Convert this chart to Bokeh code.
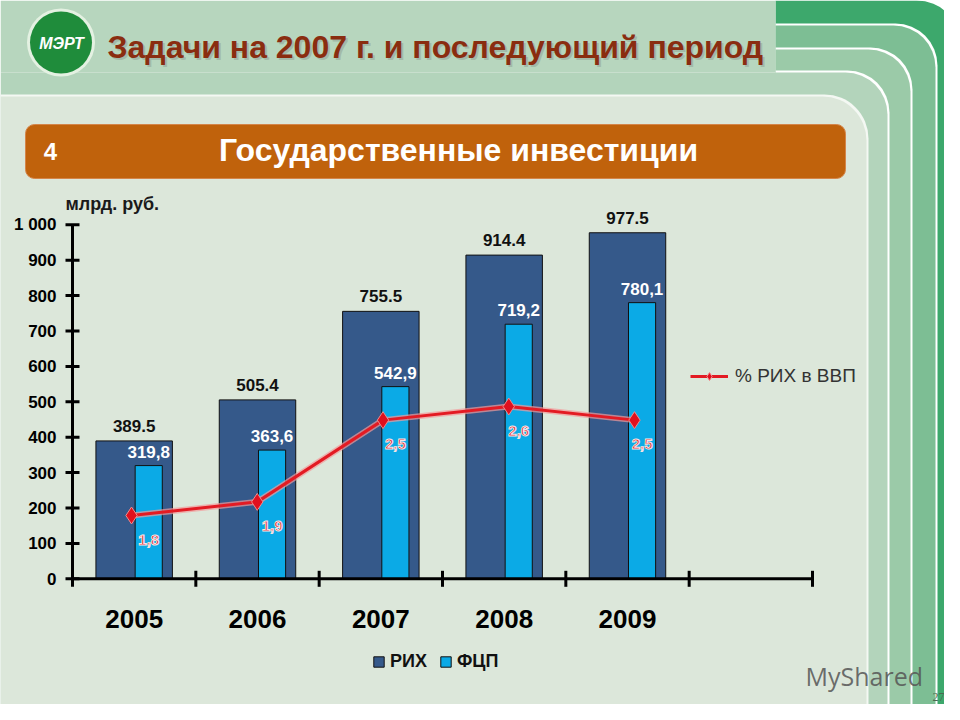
import numpy as np
from bokeh.plotting import figure
from bokeh.models import Range1d, ColumnDataSource, Legend, LegendItem
from bokeh.core.properties import value
from bokeh.embed import file_html
from bokeh.resources import INLINE

# ---------------- data ----------------
years = ["2005", "2006", "2007", "2008", "2009"]
rih = [389.5, 505.4, 755.5, 914.4, 977.5]          # РИХ, млрд. руб.
fcp = [319.8, 363.6, 542.9, 719.2, 780.1]          # ФЦП, млрд. руб.
share = [1.8, 1.9, 2.5, 2.6, 2.5]                  # % РИХ в ВВП
y_ticks = [0, 100, 200, 300, 400, 500, 600, 700, 800, 900, 1000]
y_tick_labels = ["0", "100", "200", "300", "400", "500", "600", "700", "800", "900", "1 000"]
n_slots = 6  # category slots on the x axis (5 years + one empty)

title_text = "Задачи на 2007 г. и последующий период"
band_text = "Государственные инвестиции"
band_num = "4"
unit_text = "млрд. руб."

# ---------------- layout (reference pixel frame) ----------------
W, H = 944, 704
OX, OY = 0, 0
AX_L, AX_R = 72.0, 812.0            # x-axis extent
AX_B, AX_T = 578.3, 224.3           # y of 0 and 1000
V_MAX = 1000.0
PCT_ZERO_Y, PCT_PX = 760.25, 136.25  # hidden secondary axis
LX0, LXS = 131.0, 125.75             # hidden secondary x axis

slot_px = (AX_R - AX_L) / n_slots
val_px = (AX_B - AX_T) / V_MAX
x_lo, x_hi = OX, OX + W
y_lo, y_hi = OY + H, OY

extra_x = {
    "cat": Range1d((x_lo - AX_L) / slot_px, (x_hi - AX_L) / slot_px),
    "lx": Range1d((x_lo - LX0) / LXS, (x_hi - LX0) / LXS),
}
extra_y = {
    "val": Range1d((AX_B - y_lo) / val_px, (AX_B - y_hi) / val_px),
    "pct": Range1d((PCT_ZERO_Y - y_lo) / PCT_PX, (PCT_ZERO_Y - y_hi) / PCT_PX),
}

p = figure(width=W, height=H, x_range=Range1d(x_lo, x_hi), y_range=Range1d(y_lo, y_hi),
           output_backend="svg", toolbar_location=None,
           x_axis_location=None, y_axis_location=None, min_border=0,
           outline_line_color=None, background_fill_color="white",
           border_fill_color="white")
p.grid.visible = False
p.extra_x_ranges = extra_x
p.extra_y_ranges = extra_y

FONT_NAME = "Liberation Sans"
FONT = value(FONT_NAME)

# ---------------- slide decoration ----------------
stripes = [
    # left, right, top, bottom, color, radius
    (775, 960, 0, 730, "#3DA86C", 44),
    (775, 937, 23, 730, "#FFFFFF", 42),
    (775, 935, 25, 730, "#7DBE94", 42),
    (775, 912, 47, 730, "#FFFFFF", 42),
    (775, 910, 49, 730, "#9BCAA8", 42),
    (775, 889, 70, 730, "#FFFFFF", 42),
    (0, 887, 72, 730, "#B3D4BB", 42),
    (0, 868, 94, 730, "#F4F8F3", 44),
    (0, 866, 96, 730, "#DCE7DA", 44),
]
for l, r, t, b, c, rad in stripes:
    p.quad(left=[l], right=[r], top=[t], bottom=[b], fill_color=c, line_color=None,
           border_radius=(0, rad, 0, 0))
p.quad(left=[0], right=[775], top=[0], bottom=[72], fill_color="#B7D6BE", line_color=None)

# logo
p.circle(x=[60.5], y=[42], radius=34, fill_color="#E4F1E2", line_color=None)
p.circle(x=[60.5], y=[42], radius=31, fill_color="#1F8C3B", line_color=None)
p.text(x=[61], y=[43], text=["МЭРТ"], text_font=FONT, text_font_style="bold italic",
       text_font_size="16px", text_color="white", text_align="center", text_baseline="middle")

# title
p.text(x=[109], y=[48], text=[title_text], text_font=FONT, text_font_style="bold",
       text_font_size="32px", text_color="#9DB3A3", text_alpha=0.8,
       text_align="left", text_baseline="middle")
p.text(x=[107], y=[46], text=[title_text], text_font=FONT, text_font_style="bold",
       text_font_size="32px", text_color="#8A2D10", text_align="left", text_baseline="middle")

# orange band
p.quad(left=[25], right=[845], top=[124], bottom=[178], fill_color="#C0620C",
       line_color="#D4854A", line_width=1, border_radius=9)
p.text(x=[50], y=[151], text=[band_num], text_font=FONT, text_font_style="bold",
       text_font_size="24px", text_color="white", text_align="center", text_baseline="middle")
p.text(x=[458], y=[149], text=[band_text], text_font=FONT, text_font_style="bold",
       text_font_size="32px", text_color="white", text_align="center", text_baseline="middle")

# unit label
p.text(x=[65], y=[203], text=[unit_text], text_font=FONT, text_font_style="bold",
       text_font_size="18px", text_color="#1A1A1A", text_align="left", text_baseline="middle")

# watermark & page number
p.text(x=[805], y=[675], text=["MyShared"], text_font=value("Open Sans"),
       text_font_size="25px", text_color="#555555", text_alpha=0.85,
       text_align="left", text_baseline="middle")
p.text(x=[938], y=[696], text=["27"], text_font=value("Liberation Serif"),
       text_font_size="12px", text_color="#4A6A50", text_align="center", text_baseline="middle")

# ---------------- chart ----------------
idx = np.arange(len(years))
src = ColumnDataSource(dict(
    idx=idx,
    xc=idx + 0.5,
    xf=idx + 0.5 + 0.118,
    rih=rih, fcp=fcp, share=share,
    rih_lbl=[f"{v:.1f}" for v in rih],
    fcp_lbl=[f"{v:.1f}".replace(".", ",") for v in fcp],
    share_lbl=[f"{v:.1f}".replace(".", ",") for v in share],
))

r_rih = p.vbar(x="xc", top="rih", bottom=0, width=0.62, source=src,
               x_range_name="cat", y_range_name="val",
               fill_color="#35598A", line_color="#111111", line_width=1)
r_fcp = p.vbar(x="xf", top="fcp", bottom=0, width=0.22, source=src,
               x_range_name="cat", y_range_name="val",
               fill_color="#0BAAE6", line_color="#111111", line_width=1)

# bar value labels
p.text(x="xc", y="rih", text="rih_lbl", source=src, x_range_name="cat", y_range_name="val",
       y_offset=-9, text_font=FONT, text_font_style="bold", text_font_size="17px",
       text_color="#111111", text_align="center", text_baseline="bottom")
p.text(x="xf", y="fcp", text="fcp_lbl", source=src, x_range_name="cat", y_range_name="val",
       y_offset=-8, text_font=FONT, text_font_style="bold", text_font_size="17px",
       text_color="white", text_align="center", text_baseline="bottom")

# % line
p.line(x="idx", y="share", source=src, x_range_name="lx", y_range_name="pct",
       line_color="#F39A9A", line_width=6, line_alpha=0.7)
r_line = p.line(x="idx", y="share", source=src, x_range_name="lx", y_range_name="pct",
                line_color="#E31B23", line_width=3)
r_mark = p.scatter(x="idx", y="share", source=src, x_range_name="lx", y_range_name="pct",
                   marker="diamond", size=17, fill_color="#E0101E", line_color="#F08A8A",
                   line_width=1)
p.text(x="xf", y="share", text="share_lbl", source=src, x_range_name="cat", y_range_name="pct",
       y_offset=24, text_font=FONT, text_font_style="bold", text_font_size="15px",
       text_color="#E0141E", text_outline_color="#F6E6E6",
       text_align="center", text_baseline="middle")

# ---------------- axes (drawn on the chart scales) ----------------
p.segment(x0=[0], x1=[0], y0=[0], y1=[V_MAX], x_range_name="cat", y_range_name="val",
          line_color="black", line_width=3)
p.segment(x0=[0], x1=[n_slots], y0=[0], y1=[0], x_range_name="cat", y_range_name="val",
          line_color="black", line_width=3)
p.segment(x0=AX_L - 7, x1=AX_L + 7, y0=y_ticks, y1=y_ticks, y_range_name="val",
          line_color="black", line_width=3)
bounds = list(range(n_slots + 1))
p.segment(x0=bounds, x1=bounds, y0=AX_B - 8, y1=AX_B + 8, x_range_name="cat",
          line_color="black", line_width=3)
p.text(x=AX_L - 16, y=y_ticks, text=y_tick_labels, y_range_name="val",
       text_font=FONT, text_font_style="bold", text_font_size="17px", text_color="black",
       text_align="right", text_baseline="middle")
p.text(x=list(idx + 0.5), y=618, text=years, x_range_name="cat",
       text_font=FONT, text_font_style="bold", text_font_size="26px", text_color="black",
       text_align="center", text_baseline="middle")

# ---------------- legends ----------------
leg_bars = Legend(items=[LegendItem(label="РИХ", renderers=[r_rih]),
                         LegendItem(label="ФЦП", renderers=[r_fcp])],
                  orientation="horizontal", location=(372, 32),
                  glyph_width=13, glyph_height=13, label_standoff=5, spacing=12,
                  padding=0, margin=0, border_line_color=None, background_fill_alpha=0,
                  label_text_font=FONT_NAME, label_text_font_style="bold",
                  label_text_font_size="18px", label_text_color="#111111")
leg_line = Legend(items=[LegendItem(label="% РИХ в ВВП", renderers=[r_line, r_mark])],
                  location=(690, 317), glyph_width=38, glyph_height=20, label_standoff=7,
                  padding=0, margin=0, border_line_color=None, background_fill_alpha=0,
                  label_text_font=FONT_NAME, label_text_font_size="19px",
                  label_text_color="#333333")
p.add_layout(leg_bars)
p.add_layout(leg_line)

open("out.html", "w").write(file_html(p, INLINE))
